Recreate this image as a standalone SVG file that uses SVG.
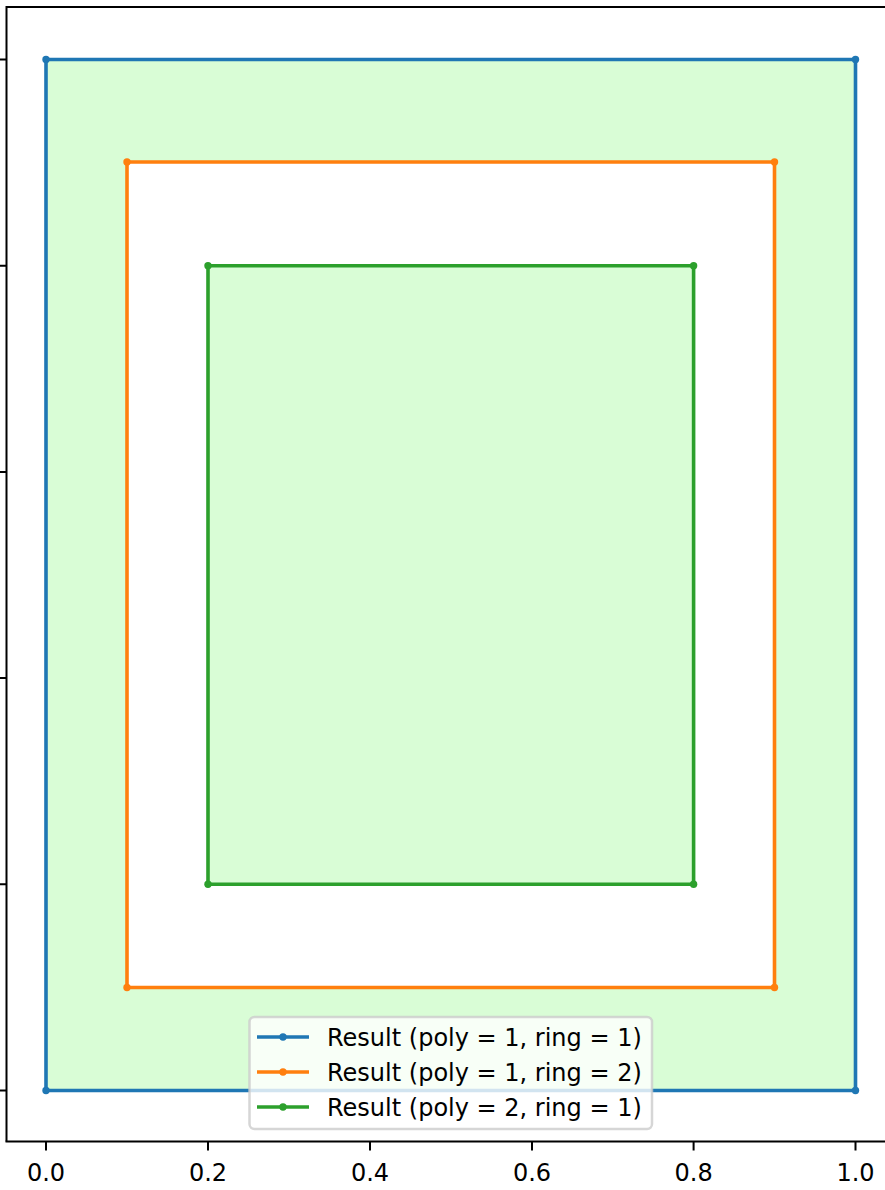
<svg xmlns="http://www.w3.org/2000/svg" width="885" height="1190" viewBox="0 0 885 1190">
<style>
.lbl{font-family:"DejaVu Sans",sans-serif;font-size:24px;fill:#000}
.tick{stroke:#000;stroke-width:2}
.ring{fill:none;stroke-width:3.6;stroke-linejoin:round}
</style>
<rect width="885" height="1190" fill="#fff"/>
<g id="fill">
<path d="M46,59.5 H855.5 V1090.5 H46 Z M127,162 V987.5 H774.5 V162 Z M208,265.7 H693.6 V884.3 H208 Z" fill="#d9fdd6" fill-rule="evenodd"/>
</g>
<g id="ring-blue">
<rect class="ring" x="46" y="59.5" width="809.5" height="1031" stroke="#1f77b4"/>
<g fill="#1f77b4"><circle cx="46" cy="59.5" r="3.7"/><circle cx="855.5" cy="59.5" r="3.7"/><circle cx="855.5" cy="1090.5" r="3.7"/><circle cx="46" cy="1090.5" r="3.7"/></g>
</g>
<g id="ring-orange">
<rect class="ring" x="127" y="162" width="647.5" height="825.5" stroke="#ff7f0e"/>
<g fill="#ff7f0e"><circle cx="127" cy="162" r="3.7"/><circle cx="774.5" cy="162" r="3.7"/><circle cx="774.5" cy="987.5" r="3.7"/><circle cx="127" cy="987.5" r="3.7"/></g>
</g>
<g id="ring-green">
<rect class="ring" x="208" y="265.7" width="485.6" height="618.6" stroke="#2ca02c"/>
<g fill="#2ca02c"><circle cx="208" cy="265.7" r="3.7"/><circle cx="693.6" cy="265.7" r="3.7"/><circle cx="693.6" cy="884.3" r="3.7"/><circle cx="208" cy="884.3" r="3.7"/></g>
</g>
<g id="axes">
<path d="M6.5,1141.5 V7 H885" fill="none" stroke="#000" stroke-width="2"/>
<path d="M5.5,1141.5 H885" fill="none" stroke="#000" stroke-width="2"/>
<path class="tick" d="M-2,59.5 H6.5 M-2,265.7 H6.5 M-2,471.9 H6.5 M-2,678.1 H6.5 M-2,884.3 H6.5 M-2,1090.5 H6.5"/>
<path class="tick" d="M46,1141.5 V1150.5 M208,1141.5 V1150.5 M370,1141.5 V1150.5 M532,1141.5 V1150.5 M693.6,1141.5 V1150.5 M855.5,1141.5 V1150.5"/>
<g class="lbl" text-anchor="middle">
<text x="46" y="1181">0.0</text>
<text x="208" y="1181">0.2</text>
<text x="370" y="1181">0.4</text>
<text x="532" y="1181">0.6</text>
<text x="693.6" y="1181">0.8</text>
<text x="855.5" y="1181">1.0</text>
</g>
</g>
<g id="legend">
<rect x="249.5" y="1017" width="402.5" height="112" rx="5" fill="#fff" fill-opacity="0.8" stroke="#cccccc" stroke-opacity="0.8" stroke-width="2.5"/>
<path d="M257,1037 H309" stroke="#1f77b4" stroke-width="3.6"/><circle cx="283" cy="1037" r="3.7" fill="#1f77b4"/>
<path d="M257,1072 H309" stroke="#ff7f0e" stroke-width="3.6"/><circle cx="283" cy="1072" r="3.7" fill="#ff7f0e"/>
<path d="M257,1107 H309" stroke="#2ca02c" stroke-width="3.6"/><circle cx="283" cy="1107" r="3.7" fill="#2ca02c"/>
<text class="lbl" x="327" y="1046">Result (poly = 1, ring = 1)</text>
<text class="lbl" x="327" y="1081">Result (poly = 1, ring = 2)</text>
<text class="lbl" x="327" y="1116">Result (poly = 2, ring = 1)</text>
</g>
</svg>
